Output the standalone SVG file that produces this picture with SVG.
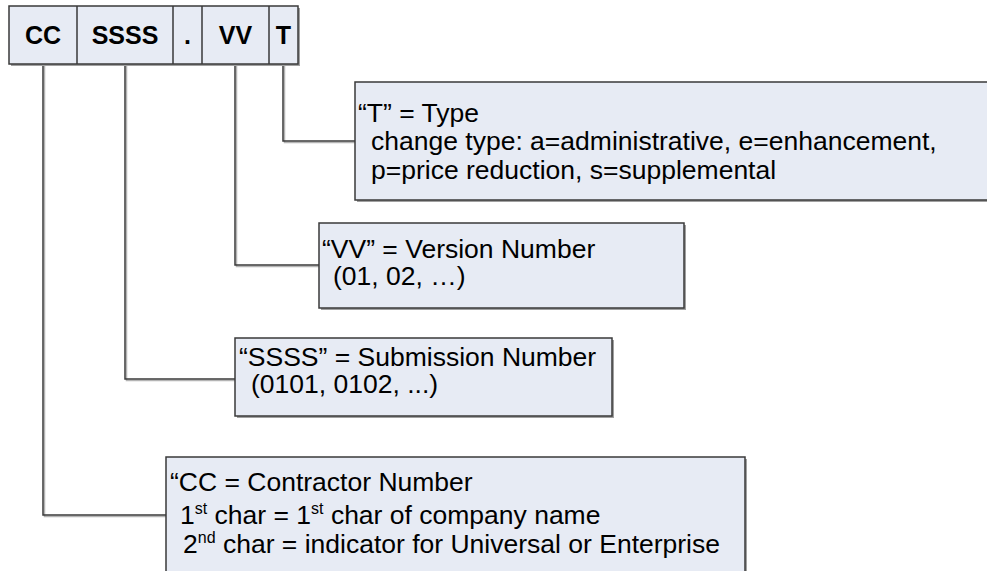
<svg xmlns="http://www.w3.org/2000/svg" width="987" height="571" viewBox="0 0 987 571">
<defs>
<style>
.bx{fill:#e7ebf4;stroke:#3a3a3a;stroke-width:1.5}
.sh{fill:none;stroke:#a0a0a0;stroke-width:2}
.ln{fill:none;stroke:#3a3a3a;stroke-width:1.5}
.lsh{fill:none;stroke:#b4b4b4;stroke-width:1.5}
.hd{font-family:"Liberation Sans",Arial,sans-serif;font-weight:bold;font-size:25px;fill:#000;text-anchor:middle}
.tx{font-family:"Liberation Sans",Arial,sans-serif;font-size:26.5px;fill:#000}
.sup{font-size:16px}
</style>
</defs>
<rect width="987" height="571" fill="#ffffff"/>
<g id="connectors">
<path class="lsh" d="M284.5,65 V142.5 H355 M236.5,65 V266.5 H319 M126.5,65 V380.5 H235 M44.5,65 V516.5 H166"/>
<path class="ln" d="M283,64 V141 H355 M235,64 V265 H319 M125,64 V379 H235 M43,64 V515 H166"/>
</g>
<g id="code">
<path class="sh" d="M299,8 V65 H11"/>
<rect class="bx" x="9" y="6" width="289" height="58"/>
<path class="ln" d="M77,6 V64 M173,6 V64 M202,6 V64 M269,6 V64"/>
<text class="hd" x="43" y="44">CC</text>
<text class="hd" x="125" y="44">SSSS</text>
<text class="hd" x="187.5" y="44">.</text>
<text class="hd" x="235.5" y="44">VV</text>
<text class="hd" x="283.5" y="44">T</text>
</g>
<g id="t-box">
<path class="sh" d="M357,201 H990"/>
<rect class="bx" x="355" y="82" width="640" height="118"/>
<text class="tx" x="358" y="122">“T” = Type</text>
<text class="tx" x="371" y="150">change type: a=administrative, e=enhancement,</text>
<text class="tx" x="371" y="179">p=price reduction, s=supplemental</text>
</g>
<g id="vv-box">
<path class="sh" d="M685,225 V309 H321"/>
<rect class="bx" x="319" y="223" width="365" height="85"/>
<text class="tx" x="322" y="258">“VV” = Version Number</text>
<text class="tx" x="333" y="285">(01, 02, …)</text>
</g>
<g id="ssss-box">
<path class="sh" d="M613,340 V417 H237"/>
<rect class="bx" x="235" y="338" width="377" height="78"/>
<text class="tx" x="239" y="366">“SSSS” = Submission Number</text>
<text class="tx" x="251" y="393">(0101, 0102, ...)</text>
</g>
<g id="cc-box">
<path class="sh" d="M746,459 V575"/>
<rect class="bx" x="166" y="457" width="579" height="120"/>
<text class="tx" x="170" y="491">“CC = Contractor Number</text>
<text class="tx" x="180" y="524">1<tspan class="sup" dy="-10">st</tspan><tspan dy="10"> char = 1</tspan><tspan class="sup" dy="-10">st</tspan><tspan dy="10"> char of company name</tspan></text>
<text class="tx" x="183" y="553">2<tspan class="sup" dy="-10">nd</tspan><tspan dy="10"> char = indicator for Universal or Enterprise</tspan></text>
</g>
</svg>
